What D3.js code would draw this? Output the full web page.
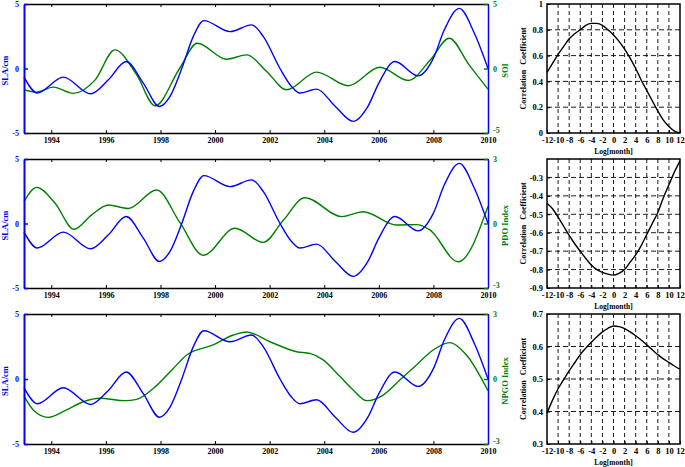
<!DOCTYPE html>
<html>
<head>
<meta charset="utf-8">
<script src="https://cdn.jsdelivr.net/npm/d3@7"></script>
<style>
  body { margin: 0; background: #fff; }
  text { font-family: "Liberation Serif", "Times New Roman", serif; font-weight: bold; }
</style>
</head>
<body>
<svg id="chart" width="685" height="467"></svg>
<script>
// time series (years)
const slaYears = [1993.0, 1993.49, 1994.44, 1995.44, 1996.09, 1996.74, 1997.37, 1997.96, 1998.35, 1998.78, 1999.2, 1999.59, 2000.55, 2001.34, 2001.77, 2002.38, 2002.8, 2003.11, 2003.72, 2004.39, 2005.06, 2005.6, 2006.0, 2006.59, 2007.44, 2008.0, 2008.4, 2008.95, 2009.5, 2010.0];
const slaValues = [-0.67, -1.9, -0.67, -1.96, -0.88, 0.54, -1.13, -2.94, -2.16, 0, 2.47, 3.71, 2.86, 3.38, 2.47, 0, -1.39, -1.9, -1.6, -2.9, -4.1, -2.94, -1.13, 0.54, -0.57, 0.8, 3.0, 4.66, 2.73, 0];

const soiYears = [1993.0, 1993.46, 1994.07, 1994.8, 1995.6, 1996.33, 1997.13, 1997.8, 1998.7, 1999.35, 2000.42, 2001.16, 2001.89, 2002.62, 2003.72, 2004.88, 2006.04, 2007.08, 2007.9, 2008.58, 2009.3, 2010.0];
const soiValues = [-1.65, -1.83, -1.44, -1.93, -0.9, 1.44, -0.5, -2.89, 0, 1.96, 0.72, 1.06, -0.23, -1.65, -0.28, -1.34, 0.1, -0.93, 0.7, 2.35, 0.3, -1.6];

const pdoYears = [1993.0, 1993.46, 1994.14, 1994.83, 1995.48, 1996.09, 1996.82, 1997.86, 1998.71, 1999.57, 2000.73, 2001.77, 2002.5, 2003.29, 2004.64, 2005.43, 2006.65, 2007.38, 2007.87, 2008.91, 2010.0];
const pdoValues = [1.01, 1.68, 0.94, -0.27, 0.4, 0.86, 0.7, 1.56, 0.05, -1.48, -0.22, -0.88, 0.15, 1.2, 0.32, 0.55, -0.07, -0.05, -0.3, -1.78, 0.8];

const npgoYears = [1993.0, 1993.34, 1993.89, 1994.56, 1995.17, 1995.78, 1996.7, 1997.13, 1997.74, 1998.47, 1998.96, 1999.93, 2000.67, 2001.16, 2002.01, 2002.99, 2003.48, 2003.96, 2004.58, 2005.06, 2005.55, 2006.16, 2006.77, 2007.38, 2007.99, 2008.6, 2009.21, 2010.0];
const npgoValues = [-0.78, -1.43, -1.77, -1.43, -1.05, -0.89, -1.0, -0.94, -0.43, 0.49, 1.11, 1.57, 2.03, 2.17, 1.72, 1.26, 1.18, 0.88, 0.11, -0.51, -1.0, -0.74, -0.05, 0.65, 1.34, 1.68, 1.11, -0.54];

const yearTicks = [1994, 1996, 1998, 2000, 2002, 2004, 2006, 2008, 2010];

// lagged correlations
const lags = [-12, -11, -10, -9, -8, -7, -6, -5, -4, -3, -2, -1, 0, 1, 2, 3, 4, 5, 6, 7, 8, 9, 10, 11, 12];
const corrSOI = [0.47, 0.54, 0.61, 0.67, 0.73, 0.77, 0.80, 0.835, 0.85, 0.85, 0.835, 0.80, 0.76, 0.71, 0.65, 0.58, 0.50, 0.41, 0.33, 0.25, 0.17, 0.10, 0.05, 0.015, 0.0];
const corrPDO = [-0.44, -0.47, -0.515, -0.565, -0.615, -0.66, -0.70, -0.74, -0.775, -0.80, -0.815, -0.825, -0.83, -0.82, -0.80, -0.76, -0.72, -0.67, -0.61, -0.55, -0.49, -0.41, -0.34, -0.27, -0.21];
const corrNPGO = [0.395, 0.435, 0.47, 0.498, 0.525, 0.55, 0.575, 0.595, 0.613, 0.63, 0.645, 0.656, 0.663, 0.661, 0.655, 0.645, 0.633, 0.62, 0.605, 0.59, 0.575, 0.562, 0.551, 0.54, 0.53];
const lagTicks = [-12, -10, -8, -6, -4, -2, 0, 2, 4, 6, 8, 10, 12];

const svg = d3.select("#chart");
const blue = "#0000ff";
const green = "#008000";

const leftX = [24, 488];
const rightX = [547, 680];
const rows = [
  { top: 4, bottom: 133 },
  { top: 159, bottom: 288 },
  { top: 314, bottom: 444 }
];

const panels = [
  { name: "SOI", years: soiYears, values: soiValues, lim: 5, corr: corrSOI,
    cDomain: [0, 1], cTicks: [0, 0.2, 0.4, 0.6, 0.8, 1], cGrid: [0.2, 0.4, 0.6, 0.8] },
  { name: "PDO Index", years: pdoYears, values: pdoValues, lim: 3, corr: corrPDO,
    cDomain: [-0.9, -0.2], cTicks: [-0.9, -0.8, -0.7, -0.6, -0.5, -0.4, -0.3], cGrid: [-0.8, -0.7, -0.6, -0.5, -0.4, -0.3] },
  { name: "NPGO Index", years: npgoYears, values: npgoValues, lim: 3, corr: corrNPGO,
    cDomain: [0.3, 0.7], cTicks: [0.3, 0.4, 0.5, 0.6, 0.7], cGrid: [0.4, 0.5, 0.6] }
];

const x = d3.scaleLinear().domain([1993, 2010]).range(leftX);
const xLag = d3.scaleLinear().domain([-12, 12]).range(rightX);

panels.forEach((p, i) => {
  const r = rows[i];
  const ySla = d3.scaleLinear().domain([-5, 5]).range([r.bottom, r.top]);
  const yIdx = d3.scaleLinear().domain([-p.lim, p.lim]).range([r.bottom, r.top]);
  const g = svg.append("g");

  // time series
  const slaLine = d3.line().x((d, k) => x(slaYears[k])).y(d => ySla(d)).curve(d3.curveMonotoneX);
  const idxLine = d3.line().x((d, k) => x(p.years[k])).y(d => yIdx(d)).curve(d3.curveMonotoneX);

  g.append("path").attr("d", idxLine(p.values))
    .attr("fill", "none").attr("stroke", green).attr("stroke-width", 1.4);
  g.append("path").attr("d", slaLine(slaValues))
    .attr("fill", "none").attr("stroke", blue).attr("stroke-width", 1.4);

  // bottom and top axes
  const bAxis = g.append("g").attr("transform", `translate(0,${r.bottom})`)
    .call(d3.axisBottom(x).tickValues(yearTicks).tickSizeInner(-3).tickSizeOuter(0).tickPadding(4).tickFormat(d3.format("d")));
  bAxis.select(".domain").attr("stroke", "#000").attr("stroke-width", 1.5);
  bAxis.selectAll("text").attr("font-size", 8).attr("fill", "#000");

  const tAxis = g.append("g").attr("transform", `translate(0,${r.top})`)
    .call(d3.axisTop(x).tickValues(yearTicks).tickSizeInner(-3).tickSizeOuter(0).tickFormat(""));
  tAxis.select(".domain").attr("stroke", "#000").attr("stroke-width", 1.5);

  // left SLA axis
  const lAxis = g.append("g").attr("transform", `translate(${leftX[0]},0)`)
    .call(d3.axisLeft(ySla).tickValues([-5, 0, 5]).tickSizeInner(-4).tickSizeOuter(0).tickPadding(5).tickFormat(d => String(d)));
  lAxis.select(".domain").attr("stroke", blue).attr("stroke-width", 2);
  lAxis.selectAll("line").attr("stroke", blue).attr("stroke-width", 1.5);
  lAxis.selectAll("text").attr("font-size", 8).attr("fill", blue);

  // right index axis
  const rAxis = g.append("g").attr("transform", `translate(${leftX[1]},0)`)
    .call(d3.axisRight(yIdx).tickValues([-p.lim, 0, p.lim]).tickSizeInner(-4).tickSizeOuter(0).tickPadding(5).tickFormat(d => String(d)));
  rAxis.select(".domain").attr("stroke", blue).attr("stroke-width", 1.5);
  rAxis.selectAll("line").attr("stroke", green).attr("stroke-width", 1.5);
  rAxis.selectAll("text").attr("font-size", 8).attr("fill", green)
    .attr("dy", d => d < 0 ? "-0.05em" : "0.32em");

  const mid = (r.top + r.bottom) / 2 + 2;
  g.append("text")
    .attr("transform", `translate(8,${mid}) rotate(-90)`)
    .attr("text-anchor", "middle").attr("font-size", 8.5).attr("fill", blue)
    .text("SLA/cm");
  g.append("text")
    .attr("transform", `translate(508,${mid}) rotate(-90)`)
    .attr("text-anchor", "middle").attr("font-size", 8.5).attr("fill", green)
    .text(p.name);

  // correlation panel
  const yC = d3.scaleLinear().domain(p.cDomain).range([r.bottom, r.top]);
  const cg = svg.append("g");

  cg.selectAll(".vgrid").data(lagTicks.slice(1, -1)).enter().append("line")
    .attr("x1", d => xLag(d)).attr("x2", d => xLag(d))
    .attr("y1", r.top).attr("y2", r.bottom)
    .attr("stroke", "#000").attr("stroke-width", 0.9).attr("stroke-dasharray", "4,3");
  cg.selectAll(".hgrid").data(p.cGrid).enter().append("line")
    .attr("x1", rightX[0]).attr("x2", rightX[1])
    .attr("y1", d => yC(d)).attr("y2", d => yC(d))
    .attr("stroke", "#000").attr("stroke-width", 0.9).attr("stroke-dasharray", "5,3");

  const corrLine = d3.line().x((d, k) => xLag(lags[k])).y(d => yC(d)).curve(d3.curveMonotoneX);
  cg.append("path").attr("d", corrLine(p.corr))
    .attr("fill", "none").attr("stroke", "#000").attr("stroke-width", 1.4);

  const cb = cg.append("g").attr("transform", `translate(0,${r.bottom})`)
    .call(d3.axisBottom(xLag).tickValues(lagTicks).tickSizeInner(-3).tickSizeOuter(0).tickPadding(4).tickFormat(d => String(d)));
  cb.select(".domain").remove();
  cb.selectAll("text").attr("font-size", 8.5).attr("fill", "#000");

  const cl = cg.append("g").attr("transform", `translate(${rightX[0]},0)`)
    .call(d3.axisLeft(yC).tickValues(p.cTicks).tickSizeInner(-3).tickSizeOuter(0).tickPadding(4).tickFormat(d => String(d)));
  cl.select(".domain").remove();
  cl.selectAll("text").attr("font-size", 8.5).attr("fill", "#000");

  cg.append("rect")
    .attr("x", rightX[0]).attr("y", r.top)
    .attr("width", rightX[1] - rightX[0]).attr("height", r.bottom - r.top)
    .attr("fill", "none").attr("stroke", "#000").attr("stroke-width", 1.5);

  cg.append("text")
    .attr("transform", `translate(526,${(r.top + r.bottom) / 2}) rotate(-90)`)
    .attr("text-anchor", "middle").attr("font-size", 8).attr("fill", "#000")
    .attr("word-spacing", 3)
    .text("Correlation Coefficient");
  cg.append("text")
    .attr("x", (rightX[0] + rightX[1]) / 2).attr("y", r.bottom + 21)
    .attr("text-anchor", "middle").attr("font-size", 7.5).attr("fill", "#000")
    .text("Log[month]");
});
</script>
</body>
</html>
